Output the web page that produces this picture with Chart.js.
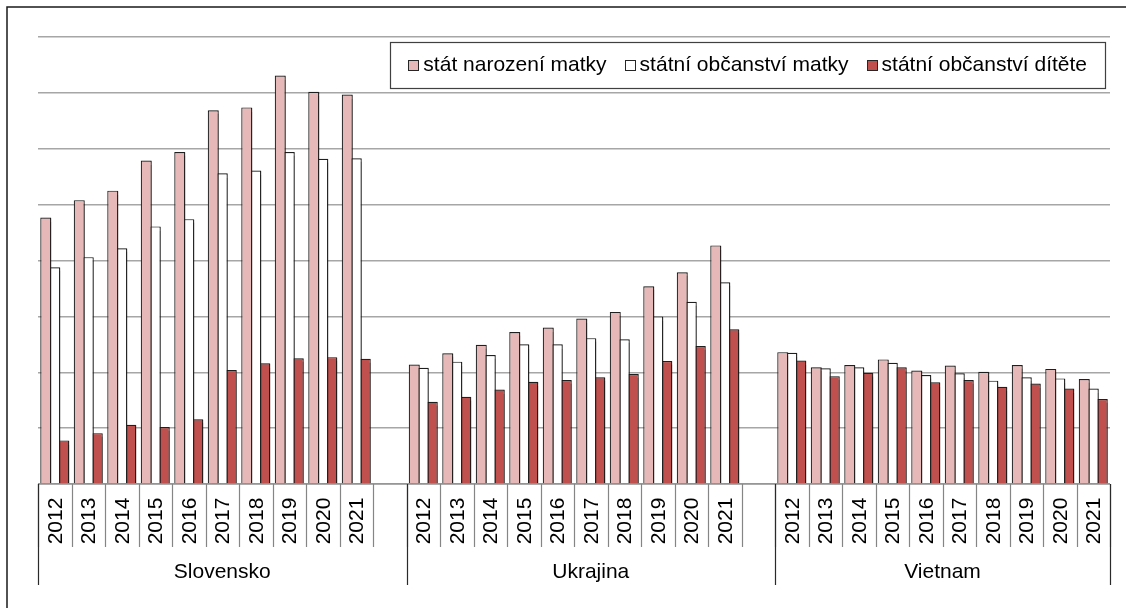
<!DOCTYPE html>
<html>
<head>
<meta charset="utf-8">
<script src="https://cdn.jsdelivr.net/npm/chart.js@4/dist/chart.umd.min.js"></script>
<style>
  html, body { margin: 0; padding: 0; background: #fff; }
  #wrap { position: relative; width: 1126px; height: 608px; }
</style>
</head>
<body>
<div id="wrap"><canvas id="graf" width="1126" height="608"></canvas></div>
<script>
const roky = ["2012", "2013", "2014", "2015", "2016", "2017", "2018", "2019", "2020", "2021"];
const zeme = ["Slovensko", "Ukrajina", "Vietnam"];

// stát narození matky
const narozeniSK = [4.77, 5.08, 5.25, 5.79, 5.94, 6.69, 6.74, 7.31, 7.02, 6.97];
const narozeniUA = [2.14, 2.34, 2.49, 2.72, 2.80, 2.96, 3.08, 3.54, 3.79, 4.27];
const narozeniVN = [2.36, 2.09, 2.13, 2.23, 2.03, 2.12, 2.01, 2.13, 2.06, 1.88];

// státní občanství matky
const obcMatkySK = [3.88, 4.06, 4.22, 4.61, 4.74, 5.56, 5.61, 5.94, 5.82, 5.83];
const obcMatkyUA = [2.08, 2.19, 2.31, 2.50, 2.50, 2.61, 2.59, 3.00, 3.26, 3.61];
const obcMatkyVN = [2.35, 2.07, 2.09, 2.17, 1.95, 1.98, 1.85, 1.91, 1.89, 1.71];

// státní občanství dítěte
const obcDiteteSK = [0.78, 0.91, 1.06, 1.02, 1.16, 2.04, 2.16, 2.25, 2.27, 2.24];
const obcDiteteUA = [1.47, 1.56, 1.69, 1.83, 1.86, 1.91, 1.97, 2.20, 2.47, 2.77];
const obcDiteteVN = [2.21, 1.93, 1.99, 2.09, 1.82, 1.86, 1.74, 1.80, 1.71, 1.52];

const FONT = "'Liberation Sans', Arial, sans-serif";

// 10 roků + prázdná mezera mezi zeměmi
function spoj(a, b, c) {
    return a.concat([null], b, [null], c);
}
const popisky = spoj(roky, roky, roky).map(r => r === null ? "" : r);
// od/do = první a poslední index kategorie (mezera patří k předchozí zemi)
const skupiny = [
    { nazev: zeme[0], od: 0, do: 10 },
    { nazev: zeme[1], od: 11, do: 21 },
    { nazev: zeme[2], od: 22, do: 31 }
];

const stin = {
    id: "stin",
    beforeDatasetsDraw(chart) {
        const ctx = chart.ctx;
        ctx.save();
        ctx.shadowColor = "rgba(0,0,0,0.35)";
        ctx.shadowOffsetX = 1.5;
        ctx.shadowOffsetY = 0.5;
        ctx.shadowBlur = 1;
    },
    afterDatasetsDraw(chart) {
        chart.ctx.restore();
    }
};

const osaX = {
    id: "osaX",
    afterDraw(chart) {
        const ctx = chart.ctx;
        const x = chart.scales.x;
        const area = chart.chartArea;
        const y0 = area.bottom;
        const sirka = x.getPixelForValue(1) - x.getPixelForValue(0);
        ctx.save();

        // vnější rámeček
        ctx.strokeStyle = "#1a1a1a";
        ctx.lineWidth = 1.5;
        ctx.beginPath();
        ctx.moveTo(7, 608);
        ctx.lineTo(7, 7);
        ctx.lineTo(1126, 7);
        ctx.stroke();

        // osa
        ctx.strokeStyle = "#858585";
        ctx.lineWidth = 1.2;
        ctx.beginPath();
        ctx.moveTo(area.left, y0);
        ctx.lineTo(area.right, y0);
        ctx.stroke();

        // krátké čárky mezi roky
        ctx.beginPath();
        popisky.forEach((p, i) => {
            if (p === "") return;
            const c = x.getPixelForValue(i);
            ctx.moveTo(Math.round(c - sirka / 2) + 0.5, y0);
            ctx.lineTo(Math.round(c - sirka / 2) + 0.5, y0 + 63);
            ctx.moveTo(Math.round(c + sirka / 2) + 0.5, y0);
            ctx.lineTo(Math.round(c + sirka / 2) + 0.5, y0 + 63);
        });
        ctx.stroke();

        // roky
        ctx.fillStyle = "#000";
        ctx.font = "21px " + FONT;
        ctx.textAlign = "center";
        ctx.textBaseline = "middle";
        popisky.forEach((p, i) => {
            if (p === "") return;
            ctx.save();
            ctx.translate(x.getPixelForValue(i) + 1, y0 + 37);
            ctx.rotate(-Math.PI / 2);
            ctx.fillText(p, 0, 0);
            ctx.restore();
        });

        // dlouhé čáry a názvy zemí
        ctx.strokeStyle = "#2a2a2a";
        ctx.beginPath();
        skupiny.forEach(s => {
            const l = x.getPixelForValue(s.od) - sirka / 2;
            const r = x.getPixelForValue(s.do) + sirka / 2;
            ctx.moveTo(Math.round(l) + 0.5, y0);
            ctx.lineTo(Math.round(l) + 0.5, y0 + 101);
            ctx.moveTo(Math.round(r) + 0.5, y0);
            ctx.lineTo(Math.round(r) + 0.5, y0 + 101);
            ctx.fillText(s.nazev, (l + r) / 2, y0 + 88);
        });
        ctx.stroke();

        // legenda
        const ds = chart.data.datasets;
        ctx.font = "21px " + FONT;
        const sirky = ds.map(d => ctx.measureText(d.label).width);
        const box = 11, mezera = 4, rozestup = 18, okraj = 18;
        let celkem = okraj * 2;
        sirky.forEach((w, i) => { celkem += box + mezera + w + (i < sirky.length - 1 ? rozestup : 0); });
        const pravy = 1105, horni = 42, vyska = 46;
        const levy = pravy - celkem;
        ctx.fillStyle = "#fff";
        ctx.fillRect(levy, horni, celkem, vyska);
        ctx.strokeStyle = "#404040";
        ctx.lineWidth = 1.2;
        ctx.strokeRect(Math.round(levy) + 0.5, horni + 0.5, Math.round(celkem), vyska);
        let px = levy + okraj;
        const stred = horni + vyska / 2;
        ds.forEach((d, i) => {
            ctx.fillStyle = d.backgroundColor;
            ctx.fillRect(Math.round(px), stred - 5, box, box);
            ctx.strokeStyle = "#262626";
            ctx.lineWidth = 1;
            ctx.strokeRect(Math.round(px) + 0.5, stred - 5 + 0.5, box - 1, box - 1);
            px += box + mezera;
            ctx.fillStyle = "#000";
            ctx.textAlign = "left";
            ctx.fillText(d.label, px, stred);
            px += sirky[i] + rozestup;
        });

        ctx.restore();
    }
};

const spolecne = {
    borderColor: "#1f1f1f",
    borderWidth: 1.2,
    categoryPercentage: 0.806,
    barPercentage: 1.222
};

const config = {
    type: "bar",
    data: {
        labels: popisky,
        datasets: [
            Object.assign({
                label: "stát narození matky",
                backgroundColor: "#E6B9B8",
                data: spoj(narozeniSK, narozeniUA, narozeniVN)
            }, spolecne),
            Object.assign({
                label: "státní občanství matky",
                backgroundColor: "#FFFFFF",
                data: spoj(obcMatkySK, obcMatkyUA, obcMatkyVN)
            }, spolecne),
            Object.assign({
                label: "státní občanství dítěte",
                backgroundColor: "#C0504D",
                data: spoj(obcDiteteSK, obcDiteteUA, obcDiteteVN)
            }, spolecne)
        ]
    },
    options: {
        responsive: false,
        maintainAspectRatio: false,
        animation: false,
        layout: { padding: { left: 38, right: 16, top: 37, bottom: 124 } },
        plugins: {
            legend: { display: false },
            tooltip: { enabled: false }
        },
        scales: {
            x: { display: false },
            y: {
                min: 0,
                max: 8,
                ticks: { display: false, stepSize: 1 },
                grid: { color: "#A6A6A6", lineWidth: 1.5, drawTicks: false },
                border: { display: false },
                afterFit: s => { s.width = 0; }
            }
        }
    },
    plugins: [stin, osaX]
};

new Chart(document.getElementById("graf").getContext("2d"), config);
</script>
</body>
</html>
